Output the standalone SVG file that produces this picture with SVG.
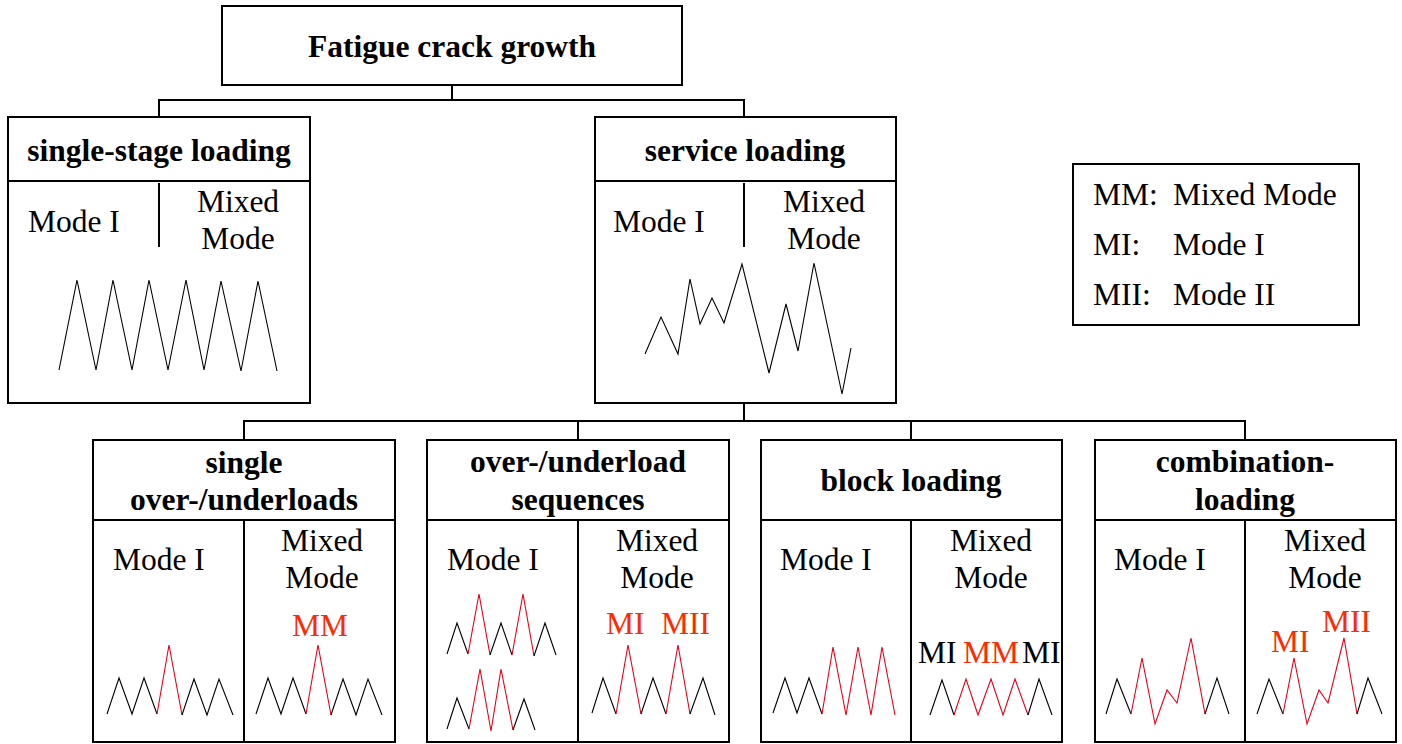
<svg xmlns="http://www.w3.org/2000/svg" width="1402" height="744" viewBox="0 0 1402 744">
<style>
.box{fill:#fff;stroke:#000;stroke-width:2}
.ln{fill:none;stroke:#000;stroke-width:2}
.t{font-family:"Liberation Serif","Times New Roman",serif;font-size:31.5px;fill:#000}
.b{font-family:"Liberation Serif","Times New Roman",serif;font-size:31.5px;font-weight:bold;fill:#000}
.c{text-anchor:middle}
.r{fill:#ff2a00}
.wk{fill:none;stroke:#000;stroke-width:1.1;stroke-linejoin:miter}
.wr{fill:none;stroke:#e3001b;stroke-width:1.1;stroke-linejoin:miter}
</style>
<rect width="1402" height="744" fill="#fff"/>
<g id="connectors">
<polyline class="ln" points="452,85 452,100"/>
<polyline class="ln" points="159,117 159,100 744,100 744,117"/>
<polyline class="ln" points="744,403 744,421"/>
<polyline class="ln" points="244,440 244,421 1245,421 1245,440"/>
<line class="ln" x1="578" y1="421" x2="578" y2="440"/>
<line class="ln" x1="911" y1="421" x2="911" y2="440"/>
</g>
<g id="root">
<rect class="box" x="222" y="6" width="460" height="79"/>
<text class="b c" x="452" y="57">Fatigue crack growth</text>
</g>
<g id="single-stage">
<rect class="box" x="8" y="117" width="302" height="286"/>
<line class="ln" x1="8" y1="181" x2="310" y2="181"/>
<line class="ln" x1="159" y1="183" x2="159" y2="247"/>
<text class="b c" x="159" y="161">single-stage loading</text>
<text class="t" x="28" y="232">Mode I</text>
<text class="t c" x="238" y="212">Mixed</text>
<text class="t c" x="238" y="249">Mode</text>
<polyline class="wk" points="59,370 77,280 96,370 113,280 132,370 149,280 168,370 186,280 204,370 221,281 241,371 258,281 277,371"/>
</g>
<g id="service">
<rect class="box" x="595" y="117" width="301" height="286"/>
<line class="ln" x1="595" y1="181" x2="896" y2="181"/>
<line class="ln" x1="744" y1="183" x2="744" y2="247"/>
<text class="b c" x="745" y="161">service loading</text>
<text class="t" x="613" y="232">Mode I</text>
<text class="t c" x="824" y="212">Mixed</text>
<text class="t c" x="824" y="249">Mode</text>
<polyline class="wk" points="645,354 661,317 678,354 690,279 700,324 712,298 724,323 742,264 769,373 786,304 798,351 814,263 842,394 851,348"/>
</g>
<g id="legend">
<rect class="box" x="1073" y="164" width="286" height="161"/>
<text class="t" x="1093" y="205">MM:</text>
<text class="t" x="1173" y="205">Mixed Mode</text>
<text class="t" x="1093" y="255">MI:</text>
<text class="t" x="1173" y="255">Mode I</text>
<text class="t" x="1093" y="305">MII:</text>
<text class="t" x="1173" y="305">Mode II</text>
</g>
<g id="single-overloads">
<rect class="box" x="93" y="440" width="302" height="302"/>
<line class="ln" x1="93" y1="520" x2="395" y2="520"/>
<line class="ln" x1="244" y1="520" x2="244" y2="742"/>
<text class="b c" x="244" y="473">single</text>
<text class="b c" x="244" y="510">over-/underloads</text>
<text class="t" x="113" y="570">Mode I</text>
<text class="t c" x="322" y="551">Mixed</text>
<text class="t c" x="322" y="588">Mode</text>
<text class="t c r" x="320" y="636">MM</text>
<polyline class="wk" points="107,714 119,678 132,714 144,678 157,714"/>
<polyline class="wr" points="157,714 169,645 182,715"/>
<polyline class="wk" points="182,715 194,679 207,715 219,679 233,715"/>
<polyline class="wk" points="256,714 268,678 281,714 293,678 306,714"/>
<polyline class="wr" points="306,714 318,645 331,715"/>
<polyline class="wk" points="331,715 343,679 356,715 368,679 382,715"/>
</g>
<g id="sequences">
<rect class="box" x="427" y="440" width="302" height="302"/>
<line class="ln" x1="427" y1="520" x2="729" y2="520"/>
<line class="ln" x1="578" y1="520" x2="578" y2="742"/>
<text class="b c" x="578" y="472">over-/underload</text>
<text class="b c" x="578" y="510">sequences</text>
<text class="t" x="447" y="570">Mode I</text>
<text class="t c" x="657" y="551">Mixed</text>
<text class="t c" x="657" y="588">Mode</text>
<text class="t r" x="606" y="634">MI</text>
<text class="t r" x="661" y="634">MII</text>
<polyline class="wk" points="447,654 457,623 468,654"/>
<polyline class="wr" points="468,654 479,594 490,655"/>
<polyline class="wk" points="490,655 501,623 512,655"/>
<polyline class="wr" points="512,655 523,594 534,656"/>
<polyline class="wk" points="534,656 545,623 556,655"/>
<polyline class="wk" points="447,729 457,698 469,729"/>
<polyline class="wr" points="469,729 480,669 491,731 501,669 513,730"/>
<polyline class="wk" points="513,730 524,699 535,730"/>
<polyline class="wk" points="592,713 603,678 616,714"/>
<polyline class="wr" points="616,714 628,645 641,714"/>
<polyline class="wk" points="641,714 653,678 666,714"/>
<polyline class="wr" points="666,714 678,645 690,714"/>
<polyline class="wk" points="690,714 703,678 715,715"/>
</g>
<g id="block">
<rect class="box" x="761" y="440" width="301" height="302"/>
<line class="ln" x1="761" y1="520" x2="1062" y2="520"/>
<line class="ln" x1="911" y1="520" x2="911" y2="742"/>
<text class="b c" x="911" y="491">block loading</text>
<text class="t" x="780" y="570">Mode I</text>
<text class="t c" x="991" y="551">Mixed</text>
<text class="t c" x="991" y="588">Mode</text>
<text class="t" x="918" y="663">MI</text>
<text class="t r" x="963" y="663">MM</text>
<text class="t" x="1022" y="663">MI</text>
<polyline class="wk" points="773,713 785,678 797,713 809,678 822,714"/>
<polyline class="wr" points="822,714 833,647 846,715 858,647 871,715 882,647 895,715"/>
<polyline class="wk" points="930,715 942,680 954,715"/>
<polyline class="wr" points="954,715 966,679 978,715 991,679 1003,715 1015,679 1028,715"/>
<polyline class="wk" points="1028,715 1039,679 1052,715"/>
</g>
<g id="combination">
<rect class="box" x="1095" y="440" width="301" height="302"/>
<line class="ln" x1="1095" y1="520" x2="1396" y2="520"/>
<line class="ln" x1="1245" y1="520" x2="1245" y2="742"/>
<text class="b c" x="1245" y="472">combination-</text>
<text class="b c" x="1245" y="510">loading</text>
<text class="t" x="1114" y="570">Mode I</text>
<text class="t c" x="1325" y="551">Mixed</text>
<text class="t c" x="1325" y="588">Mode</text>
<text class="t r" x="1271" y="652">MI</text>
<text class="t r" x="1322" y="632">MII</text>
<polyline class="wk" points="1106,714 1117,679 1131,714"/>
<polyline class="wr" points="1131,714 1142,658 1155,724 1167,690 1177,703 1191,638 1205,714"/>
<polyline class="wk" points="1205,714 1217,678 1229,714"/>
<polyline class="wk" points="1257,714 1269,679 1283,714"/>
<polyline class="wr" points="1283,714 1294,658 1307,724 1319,690 1328,703 1344,638 1357,714"/>
<polyline class="wk" points="1357,714 1368,678 1382,714"/>
</g>
</svg>
